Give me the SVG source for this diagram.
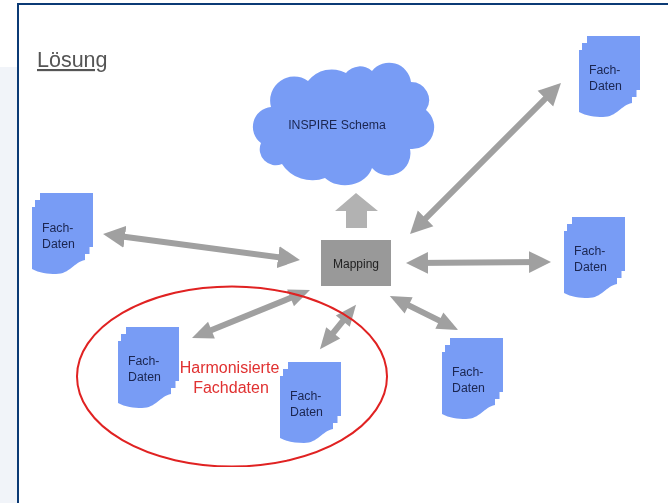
<svg xmlns="http://www.w3.org/2000/svg" width="668" height="503" viewBox="0 0 668 503">
<style>
text{font-family:"Liberation Sans",Arial,sans-serif}
.d{fill:#1a2550;font-size:12.3px}
.c{stroke:#a0a0a0;stroke-width:6;fill:none;marker-start:url(#h);marker-end:url(#h)}
.s{stroke:#a0a0a0;stroke-width:6;fill:none;marker-start:url(#hs);marker-end:url(#hs)}
.doc{fill:#789cf5}
</style>
<defs>
<marker id="h" markerUnits="userSpaceOnUse" markerWidth="24" markerHeight="24" refX="14" refY="12" orient="auto-start-reverse" viewBox="0 0 24 24"><path d="M0,1 L22,12 L0,23 Z" fill="#a0a0a0"/></marker>
<marker id="hs" markerUnits="userSpaceOnUse" markerWidth="24" markerHeight="24" refX="14" refY="12" orient="auto-start-reverse" viewBox="0 0 24 24"><path d="M1,3 L22,12 L1,21 Z" fill="#a0a0a0"/></marker>
<path id="p" d="M8,0H61V54H57.500V61H53V67C42,69 38,81 24,81C16,81 7,80 0,76V14H3V7H8Z"/>
<filter id="b" x="0" y="0" width="100%" height="100%"><feGaussianBlur stdDeviation="0.55"/></filter>
</defs>
<rect width="668" height="503" fill="#fff"/>
<rect x="0" y="67" width="18" height="436" fill="#f1f4f9"/>
<path d="M18,503V4H668" fill="none" stroke="#0b3a75" stroke-width="2"/>
<g filter="url(#b)">
<text x="37" y="67" font-size="21.500" fill="#555" text-decoration="underline">Lösung</text>
<g id="connectors">
<line class="c" x1="111" y1="235" x2="292" y2="259"/>
<line class="c" x1="555.300" y1="88.700" x2="415.700" y2="228.300"/>
<line class="c" x1="414" y1="263" x2="543" y2="262"/>
<line class="s" x1="397" y1="299.600" x2="451" y2="326.400"/>
<line class="s" x1="199.400" y1="335" x2="302.600" y2="293"/>
<line class="s" x1="325" y1="343" x2="351" y2="311"/>
<path id="up" d="M356,193L378,211H367V228H346V211H335Z" fill="#b2b2b2"/>
</g>
<ellipse id="harmonisiert" cx="232" cy="376.500" rx="155" ry="90" fill="none" stroke="#e02020" stroke-width="2"/>
<text x="229.500" y="372.500" font-size="16" fill="#e03030" text-anchor="middle">Harmonisierte</text>
<text x="231" y="393" font-size="16" fill="#e03030" text-anchor="middle">Fachdaten</text>
<g id="cloud">
<path d="M271,107A24,24 0 0 1 308,81A30,30 0 0 1 346,73A18,18 0 0 1 372,71A22,22 0 0 1 411,82A18,18 0 0 1 426,110A22,22 0 0 1 410,149A22,22 0 0 1 372,168A28,24 0 0 1 325,178A36,36 0 0 1 282,164A16,16 0 0 1 261,143A20,20 0 0 1 271,107Z" fill="#789cf5"/>
<text x="337" y="129" font-size="12.300" fill="#1a2550" text-anchor="middle">INSPIRE Schema</text>
</g>
<g id="mapping">
<rect x="321" y="240" width="70" height="46" fill="#999"/>
<text x="356" y="268" font-size="12" fill="#222" text-anchor="middle">Mapping</text>
</g>
<g id="doc-top-right"><use href="#p" class="doc" x="579" y="36"/><text class="d" x="589" y="74">Fach-</text><text class="d" x="589" y="90">Daten</text></g>
<g id="doc-left"><use href="#p" class="doc" x="32" y="193"/><text class="d" x="42" y="232">Fach-</text><text class="d" x="42" y="248">Daten</text></g>
<g id="doc-right"><use href="#p" class="doc" x="564" y="217"/><text class="d" x="574" y="255">Fach-</text><text class="d" x="574" y="271">Daten</text></g>
<g id="doc-bottom"><use href="#p" class="doc" x="442" y="338"/><text class="d" x="452" y="376">Fach-</text><text class="d" x="452" y="392">Daten</text></g>
<g id="doc-harm-1"><use href="#p" class="doc" x="118" y="327"/><text class="d" x="128" y="365">Fach-</text><text class="d" x="128" y="381">Daten</text></g>
<g id="doc-harm-2"><use href="#p" class="doc" x="280" y="362"/><text class="d" x="290" y="400">Fach-</text><text class="d" x="290" y="416">Daten</text></g>
</g>
</svg>
